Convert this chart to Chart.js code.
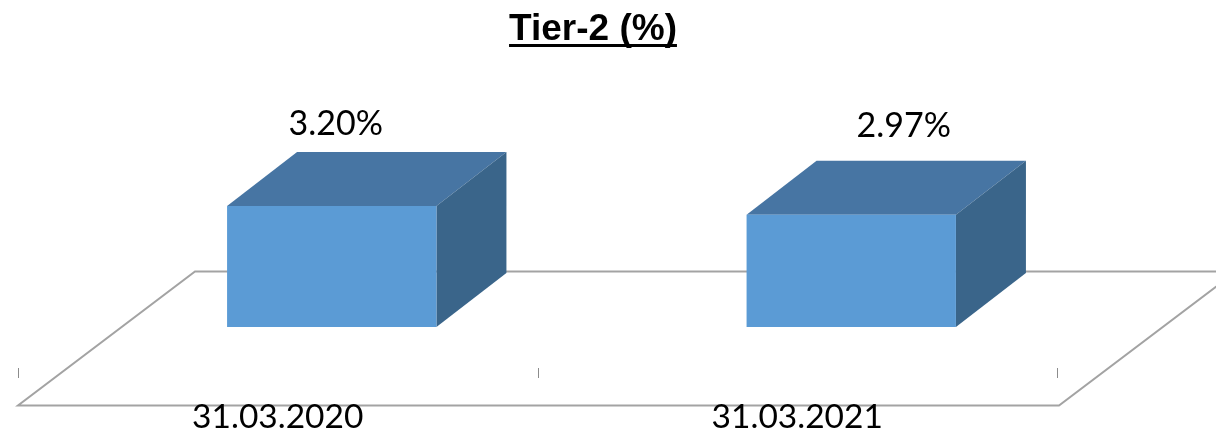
<!DOCTYPE html>
<html>
<head>
<meta charset="utf-8">
<title>Tier-2 (%)</title>
<script src="https://cdn.jsdelivr.net/npm/chart.js@4"></script>
<style>
  html, body { margin: 0; padding: 0; background: #fff; }
  #wrap { width: 1216px; height: 433px; }
</style>
</head>
<body>
<div id="wrap"><canvas id="myChart" width="1216" height="433"></canvas></div>
<script>
const titleText = 'Tier-2 (%)';
const categories = ['31.03.2020', '31.03.2021'];
const tier2Values = [3.20, 2.97];
const valueLabels = ['3.20%', '2.97%'];

const frontColor = '#5b9bd5';
const topColor = '#4775a3';
const sideColor = '#3a658a';
const floorColor = '#a3a3a3';

// depth of the boxes and of the floor, in pixels
const barDepth = { x: 70, y: 54 };
const floorDepth = { x: 177, y: 134 };
// the boxes sit towards the back of the floor, right of each category centre
const floorShift = 54;

function polygon(ctx, pts, fill) {
  ctx.beginPath();
  pts.forEach((p, i) => (i ? ctx.lineTo(p[0], p[1]) : ctx.moveTo(p[0], p[1])));
  ctx.closePath();
  ctx.fillStyle = fill;
  ctx.fill();
}

const fake3d = {
  id: 'fake3d',
  beforeDatasetsDraw(chart) {
    const { ctx, chartArea } = chart;
    const frontY = chartArea.bottom + 78.5;
    const left = chartArea.left - floorShift;
    const right = chartArea.right - floorShift + 2;

    // floor outline, open at the front right where it runs off the canvas
    ctx.save();
    ctx.strokeStyle = floorColor;
    ctx.lineWidth = 2;
    ctx.beginPath();
    ctx.moveTo(right + floorDepth.x, frontY - floorDepth.y);
    ctx.lineTo(left + floorDepth.x, frontY - floorDepth.y);
    ctx.lineTo(left, frontY);
    ctx.lineTo(right, frontY);
    ctx.lineTo(right + floorDepth.x, frontY - floorDepth.y);
    ctx.stroke();

    // category separators
    const step = chartArea.width / categories.length;
    ctx.strokeStyle = '#8c8c8c';
    ctx.lineWidth = 1;
    for (let i = 0; i <= categories.length; i++) {
      const x = Math.round(left + i * step) + 0.5;
      ctx.beginPath();
      ctx.moveTo(x, chartArea.bottom + 41);
      ctx.lineTo(x, chartArea.bottom + 51);
      ctx.stroke();
    }

    // top and side faces of each box
    chart.getDatasetMeta(0).data.forEach((bar) => {
      const { x, y, base, width } = bar.getProps(['x', 'y', 'base', 'width'], true);
      const l = x - width / 2;
      const r = x + width / 2;
      polygon(ctx, [[l, y], [l + barDepth.x, y - barDepth.y], [r + barDepth.x, y - barDepth.y], [r, y]], topColor);
      polygon(ctx, [[r, y], [r + barDepth.x, y - barDepth.y], [r + barDepth.x, base - barDepth.y], [r, base]], sideColor);
    });
    ctx.restore();
  },
  afterDatasetsDraw(chart) {
    const { ctx } = chart;
    ctx.save();

    // value labels sit above the box, each with its own offset
    const offsets = [[4, -71], [52.5, -78]];
    ctx.font = '34px Lato';
    ctx.fillStyle = '#000';
    ctx.textAlign = 'center';
    ctx.textBaseline = 'alphabetic';
    chart.getDatasetMeta(0).data.forEach((bar, i) => {
      ctx.fillText(valueLabels[i], bar.x + offsets[i][0], bar.y + offsets[i][1]);
    });

    // underlined heading
    ctx.font = 'bold 37px "Liberation Sans"';
    const w = ctx.measureText(titleText).width;
    ctx.fillText(titleText, 593, 40);
    ctx.fillRect(593 - w / 2, 44, w, 3);
    ctx.restore();
  }
};

new Chart(document.getElementById('myChart').getContext('2d'), {
  type: 'bar',
  data: {
    labels: categories,
    datasets: [{
      label: 'Tier-2 (%)',
      data: tier2Values,
      backgroundColor: frontColor,
      borderWidth: 0,
      barPercentage: 0.403,
      categoryPercentage: 1
    }]
  },
  options: {
    responsive: false,
    animation: false,
    layout: { padding: { left: 72, right: 105, top: 24.6, bottom: 0 } },
    plugins: {
      legend: { display: false },
      tooltip: { enabled: false },
      title: { display: false }
    },
    scales: {
      x: {
        grid: { display: false },
        border: { display: false },
        ticks: {
          color: '#000',
          font: { family: 'Lato', size: 33.5 },
          padding: 62,
          labelOffset: -floorShift,
          maxRotation: 0,
          z: 1
        },
        afterFit(scale) { scale.height = 106; }
      },
      y: { display: false, min: 0, max: 8 }
    }
  },
  plugins: [fake3d]
});
</script>
</body>
</html>
